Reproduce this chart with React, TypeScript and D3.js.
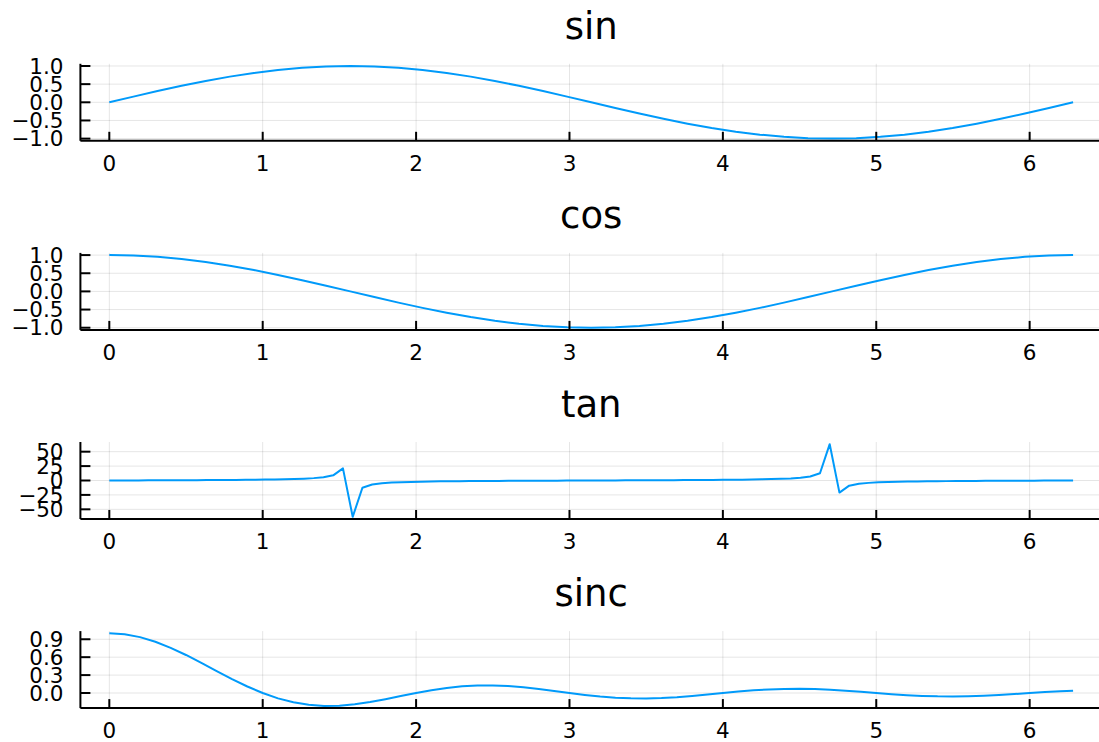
import React from 'react';
import * as d3 from 'd3';

// sample grid for sin / cos (steps of pi/20)
const trigX = [
  0, 0.1571, 0.3142, 0.4712, 0.6283, 0.7854, 0.9425, 1.0996, 1.2566, 1.4137,
  1.5708, 1.7279, 1.885, 2.042, 2.1991, 2.3562, 2.5133, 2.6704, 2.8274, 2.9845,
  3.1416, 3.2987, 3.4558, 3.6128, 3.7699, 3.927, 4.0841, 4.2412, 4.3982, 4.5553,
  4.7124, 4.8695, 5.0265, 5.1836, 5.3407, 5.4978, 5.6549, 5.8119, 5.969, 6.1261,
  6.2832,
];

const sinY = [
  0, 0.1564, 0.309, 0.454, 0.5878, 0.7071, 0.809, 0.891, 0.9511, 0.9877,
  1, 0.9877, 0.9511, 0.891, 0.809, 0.7071, 0.5878, 0.454, 0.309, 0.1564,
  0, -0.1564, -0.309, -0.454, -0.5878, -0.7071, -0.809, -0.891, -0.9511, -0.9877,
  -1, -0.9877, -0.9511, -0.891, -0.809, -0.7071, -0.5878, -0.454, -0.309, -0.1564,
  0,
];

const cosY = [
  1, 0.9877, 0.9511, 0.891, 0.809, 0.7071, 0.5878, 0.454, 0.309, 0.1564,
  0, -0.1564, -0.309, -0.454, -0.5878, -0.7071, -0.809, -0.891, -0.9511, -0.9877,
  -1, -0.9877, -0.9511, -0.891, -0.809, -0.7071, -0.5878, -0.454, -0.309, -0.1564,
  0, 0.1564, 0.309, 0.454, 0.5878, 0.7071, 0.809, 0.891, 0.9511, 0.9877,
  1,
];

// 100 samples over [0, 2pi] for tan
const tanX = [
  0, 0.0635, 0.1269, 0.1904, 0.2539, 0.3173, 0.3808, 0.4443, 0.5077, 0.5712,
  0.6347, 0.6981, 0.7616, 0.8251, 0.8885, 0.952, 1.0155, 1.0789, 1.1424, 1.2059,
  1.2693, 1.3328, 1.3963, 1.4597, 1.5232, 1.5867, 1.6501, 1.7136, 1.7771, 1.8405,
  1.904, 1.9675, 2.0309, 2.0944, 2.1579, 2.2213, 2.2848, 2.3483, 2.4117, 2.4752,
  2.5387, 2.6021, 2.6656, 2.7291, 2.7925, 2.856, 2.9195, 2.9829, 3.0464, 3.1099,
  3.1733, 3.2368, 3.3003, 3.3637, 3.4272, 3.4907, 3.5541, 3.6176, 3.6811, 3.7445,
  3.808, 3.8715, 3.9349, 3.9984, 4.0619, 4.1253, 4.1888, 4.2523, 4.3157, 4.3792,
  4.4427, 4.5061, 4.5696, 4.6331, 4.6965, 4.76, 4.8235, 4.8869, 4.9504, 5.0139,
  5.0773, 5.1408, 5.2043, 5.2677, 5.3312, 5.3947, 5.4581, 5.5216, 5.5851, 5.6485,
  5.712, 5.7755, 5.8389, 5.9024, 5.9659, 6.0293, 6.0928, 6.1563, 6.2197, 6.2832,
];

const tanY = [
  0, 0.0636, 0.1276, 0.1927, 0.2594, 0.3284, 0.4003, 0.476, 0.5564, 0.6426,
  0.7361, 0.8391, 0.954, 1.0835, 1.2316, 1.4036, 1.6107, 1.8655, 2.1885, 2.6186,
  3.2122, 4.1222, 5.6713, 8.969, 20.98,
  -63.02, -12.57, -6.953, -4.775, -3.618, -2.888, -2.387, -2.017, -1.732, -1.501,
  -1.314, -1.155, -1.016, -0.8949, -0.7864, -0.6886, -0.5985, -0.5155, -0.4377, -0.364,
  -0.2936, -0.2259, -0.16, -0.0955, -0.0318,
  0.0318, 0.0955, 0.16, 0.2259, 0.2936, 0.364, 0.4377, 0.5155, 0.5985, 0.6886,
  0.7864, 0.8949, 1.016, 1.155, 1.314, 1.501, 1.732, 2.017, 2.387, 2.888,
  3.618, 4.775, 6.953, 12.57, 63.02,
  -20.98, -8.969, -5.671, -4.122, -3.212, -2.619, -2.189, -1.866, -1.611, -1.404,
  -1.232, -1.084, -0.954, -0.839, -0.736, -0.643, -0.556, -0.476, -0.4, -0.328,
  -0.259, -0.193, -0.128, -0.0636, 0,
];

// sinc sampled every 0.1, plus the end point
const sincX = [
  0, 0.1, 0.2, 0.3, 0.4, 0.5, 0.6, 0.7, 0.8, 0.9,
  1, 1.1, 1.2, 1.3, 1.4, 1.5, 1.6, 1.7, 1.8, 1.9,
  2, 2.1, 2.2, 2.3, 2.4, 2.5, 2.6, 2.7, 2.8, 2.9,
  3, 3.1, 3.2, 3.3, 3.4, 3.5, 3.6, 3.7, 3.8, 3.9,
  4, 4.1, 4.2, 4.3, 4.4, 4.5, 4.6, 4.7, 4.8, 4.9,
  5, 5.1, 5.2, 5.3, 5.4, 5.5, 5.6, 5.7, 5.8, 5.9,
  6, 6.1, 6.2, 6.2832,
];

const sincY = [
  1, 0.9836, 0.9355, 0.8584, 0.7568, 0.6366, 0.5046, 0.3679, 0.2339, 0.1093,
  0, -0.0894, -0.1559, -0.1981, -0.2162, -0.2122, -0.1892, -0.1515, -0.1039, -0.0518,
  0, 0.0468, 0.085, 0.112, 0.1261, 0.1273, 0.1164, 0.0954, 0.0668, 0.0339,
  0, -0.0317, -0.0585, -0.078, -0.089, -0.0909, -0.0841, -0.0696, -0.0492, -0.0252,
  0, 0.024, 0.0445, 0.0599, 0.0688, 0.0707, 0.0658, 0.0548, 0.039, 0.0201,
  0, -0.0193, -0.036, -0.0486, -0.0561, -0.0579, -0.0541, -0.0452, -0.0323, -0.0167,
  0, 0.0161, 0.0302, 0.0393,
];

const titles = ['sin', 'cos', 'tan', 'sinc'];
const xTicks = [0, 1, 2, 3, 4, 5, 6];
const trigTicks = [-1, -0.5, 0, 0.5, 1];
const tanTicks = [-50, -25, 0, 25, 50];
const sincTicks = [0, 0.3, 0.6, 0.9];

const W = 1099;
const H = 742;
const LEFT = 80.4;
const RIGHT = 1102;
const TOP0 = 63.8;
const STEP = 189.1;
const PH = 77;
const BLUE = '#009AFA';
const FONT = '"DejaVu Sans", sans-serif';

const panels = [
  { xs: trigX, ys: sinY, ticks: trigTicks, digits: 1 },
  { xs: trigX, ys: cosY, ticks: trigTicks, digits: 1 },
  { xs: tanX, ys: tanY, ticks: tanTicks, digits: 0 },
  { xs: sincX, ys: sincY, ticks: sincTicks, digits: 1 },
];

const fmt = (v: number, digits: number) => {
  const s = Math.abs(v).toFixed(digits);
  return v < 0 ? '\u2212' + s : s;
};

// 3% padding like Plots.jl
const padded = (vals: number[]): [number, number] => {
  const [lo, hi] = d3.extent(vals) as [number, number];
  const p = (hi - lo) * 0.03;
  return [lo - p, hi + p];
};

const Panel: React.FC<{ i: number }> = ({ i }) => {
  const { xs, ys, ticks, digits } = panels[i];
  const top = TOP0 + STEP * i;
  const bottom = top + PH;

  const x = d3.scaleLinear().domain(padded(xs)).range([LEFT, RIGHT]);
  const y = d3.scaleLinear().domain(padded(ys)).range([bottom, top]);

  const line = d3.line<number>()
    .x((_, j) => x(xs[j]))
    .y(d => y(d));

  return (
    <g>
      <text x={(LEFT + RIGHT) / 2} y={39 + STEP * i} textAnchor="middle"
        fontSize={37} fontFamily={FONT} fill="#000">{titles[i]}</text>

      {/* grid */}
      {xTicks.map(t => (
        <line key={'gx' + t} x1={x(t)} x2={x(t)} y1={top} y2={bottom}
          stroke="#000" strokeOpacity={0.1} strokeWidth={1} />
      ))}
      {ticks.map(t => (
        <line key={'gy' + t} x1={LEFT} x2={RIGHT} y1={y(t)} y2={y(t)}
          stroke="#000" strokeOpacity={0.1} strokeWidth={1} />
      ))}

      <path d={line(ys) || ''} fill="none" stroke={BLUE} strokeWidth={2}
        strokeLinejoin="round" />

      {/* axes */}
      <line x1={LEFT} x2={RIGHT} y1={bottom} y2={bottom} stroke="#000" strokeWidth={2} />
      <line x1={LEFT} x2={LEFT} y1={top} y2={bottom} stroke="#000" strokeWidth={2} />

      {xTicks.map(t => (
        <g key={'tx' + t}>
          <line x1={x(t)} x2={x(t)} y1={bottom} y2={bottom - 9} stroke="#000" strokeWidth={2} />
          <text x={x(t)} y={bottom + 30} textAnchor="middle" fontSize={21.5}
            fontFamily={FONT} fill="#000">{t}</text>
        </g>
      ))}
      {ticks.map(t => (
        <g key={'ty' + t}>
          <line x1={LEFT} x2={LEFT + 10} y1={y(t)} y2={y(t)} stroke="#000" strokeWidth={2} />
          <text x={63.5} y={y(t)} dy="0.36em" textAnchor="end" fontSize={21.5}
            fontFamily={FONT} fill="#000">{fmt(t, digits)}</text>
        </g>
      ))}
    </g>
  );
};

export default function App() {
  return (
    <svg width={W} height={H} style={{ position: 'absolute', left: 0, top: 0, background: '#fff' }}>
      <rect width={W} height={H} fill="#fff" />
      {panels.map((_, i) => <Panel key={i} i={i} />)}
    </svg>
  );
}
